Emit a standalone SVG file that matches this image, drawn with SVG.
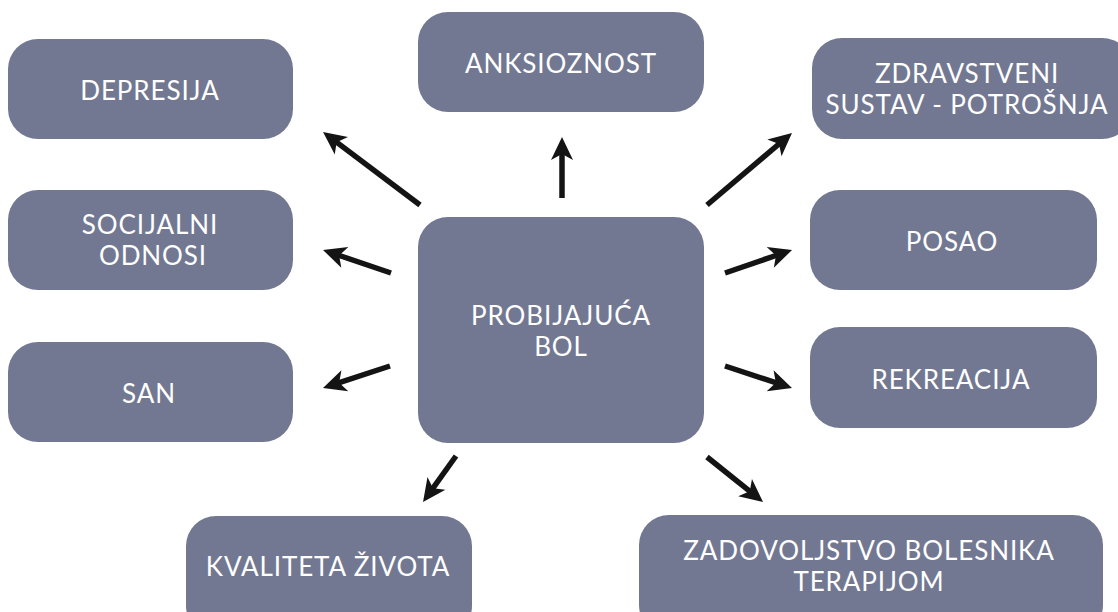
<svg xmlns="http://www.w3.org/2000/svg" width="1118" height="612" viewBox="0 0 1118 612">
<defs>
<style>
.box{fill:#727891;}
.t{font-family:Lato,"Open Sans","Liberation Sans",sans-serif;font-size:26px;fill:#ffffff;text-anchor:middle;letter-spacing:0.9px;}
.a{stroke:#141414;stroke-width:5.5;fill:none;marker-end:url(#ah);}
</style>
<marker id="ah" markerUnits="userSpaceOnUse" viewBox="-10 -12 26 24" refX="0" refY="0" markerWidth="26" markerHeight="24" orient="auto">
<path d="M14,0 L-9,-11 L-3,0 L-9,11 Z" fill="#141414"/>
</marker>
</defs>
<rect width="1118" height="612" fill="#ffffff"/>
<g id="connectors">
<line class="a" x1="420" y1="205" x2="334.2" y2="140.4"/>
<line class="a" x1="391" y1="273" x2="336.3" y2="254.5"/>
<line class="a" x1="390" y1="366" x2="336.3" y2="383.6"/>
<line class="a" x1="562" y1="198" x2="562" y2="151"/>
<line class="a" x1="707" y1="205" x2="781.3" y2="142"/>
<line class="a" x1="725" y1="273" x2="778.8" y2="254.5"/>
<line class="a" x1="725" y1="366" x2="778.7" y2="383.6"/>
<line class="a" x1="707" y1="457" x2="752.1" y2="493.2"/>
<line class="a" x1="456" y1="456" x2="431.2" y2="490.6"/>
</g>
<g id="depresija"><rect class="box" x="8" y="39" width="285" height="100" rx="30"/><text class="t" x="150" y="100">DEPRESIJA</text></g>
<g id="anksioznost"><rect class="box" x="418" y="12" width="286" height="100" rx="30"/><text class="t" x="561" y="73">ANKSIOZNOST</text></g>
<g id="zdravstveni"><rect class="box" x="812" y="38" width="320" height="101" rx="30"/><text class="t" x="967" y="83">ZDRAVSTVENI</text><text class="t" x="967" y="114">SUSTAV - POTROŠNJA</text></g>
<g id="socijalni"><rect class="box" x="8" y="190" width="285" height="100" rx="30"/><text class="t" x="150" y="234">SOCIJALNI</text><text class="t" x="153" y="265">ODNOSI</text></g>
<g id="san"><rect class="box" x="8" y="342" width="285" height="100" rx="30"/><text class="t" x="149" y="403">SAN</text></g>
<g id="probijajuca"><rect class="box" x="418" y="217" width="286" height="226" rx="30"/><text class="t" x="561" y="325">PROBIJAJUĆA</text><text class="t" x="561" y="356">BOL</text></g>
<g id="posao"><rect class="box" x="810" y="190" width="287" height="100" rx="30"/><text class="t" x="952" y="251">POSAO</text></g>
<g id="rekreacija"><rect class="box" x="810" y="327" width="287" height="101" rx="30"/><text class="t" x="951" y="389">REKREACIJA</text></g>
<g id="kvaliteta"><rect class="box" x="186" y="516" width="286" height="120" rx="30"/><text class="t" x="328" y="576">KVALITETA ŽIVOTA</text></g>
<g id="zadovoljstvo"><rect class="box" x="639" y="515" width="464" height="120" rx="30"/><text class="t" x="869" y="560">ZADOVOLJSTVO BOLESNIKA</text><text class="t" x="869" y="591">TERAPIJOM</text></g>
</svg>
